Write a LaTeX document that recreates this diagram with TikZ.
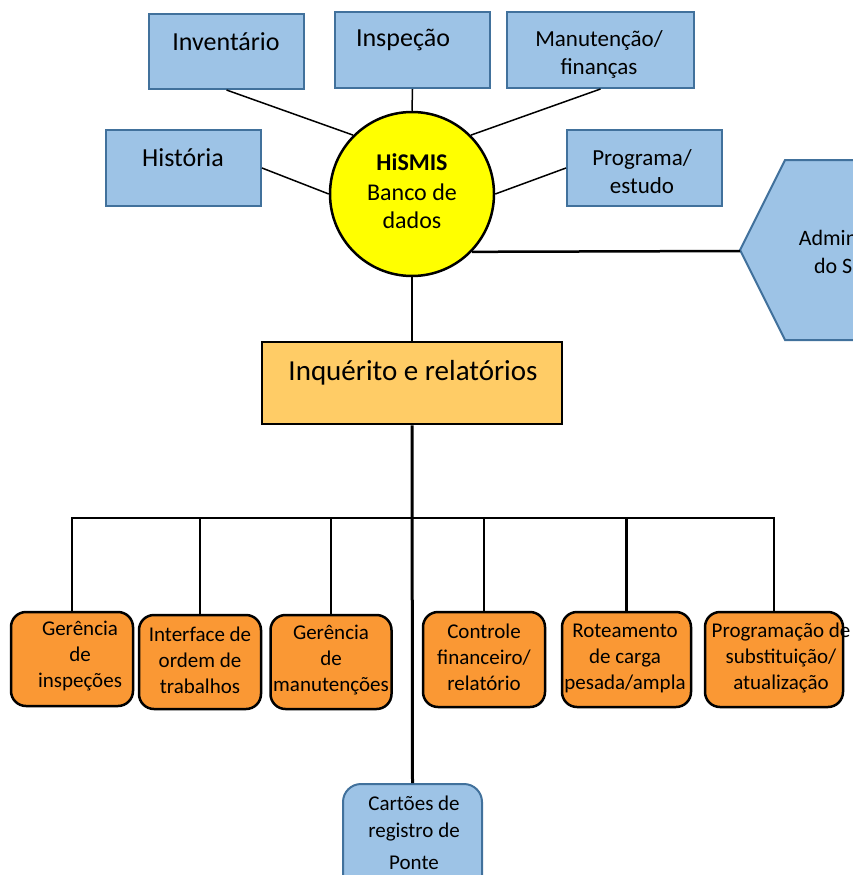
\documentclass[tikz,border=0pt]{standalone}
\usepackage{fontspec}
\setmainfont{Carlito}
\definecolor{bluefill}{RGB}{157,195,230}
\definecolor{bluedge}{RGB}{65,113,156}
\definecolor{orng}{RGB}{250,152,52}
\definecolor{inqfill}{RGB}{255,204,102}
\definecolor{hsyellow}{RGB}{255,255,0}
\tikzset{
  bbox/.style={rectangle, draw=bluedge, fill=bluefill, line width=2pt, inner sep=0pt},
  obox/.style={rectangle, rounded corners=15pt, draw=black, fill=orng, line width=2.5pt, inner sep=0pt},
  cbox/.style={rectangle, rounded corners=18pt, draw=bluedge, fill=bluefill, line width=2pt, inner sep=0pt},
  tbig/.style={font=\fontsize{26}{28}\selectfont, align=center, inner sep=0pt},
  tmid/.style={font=\fontsize{23}{28}\selectfont, align=center, inner sep=0pt},
  tsml/.style={font=\fontsize{21}{26}\selectfont, align=center, inner sep=0pt},
  thin/.style={draw=black, line width=1.5pt},
  drop/.style={draw=black, line width=2.5pt},
  trunk/.style={draw=black, line width=3pt},
}
\begin{document}
\begin{tikzpicture}[x=1pt,y=-1pt]
\useasboundingbox (0,0) rectangle (853,875);
\begin{scope}
\clip (0,0) rectangle (853,875);
% top boxes
\node[bbox, minimum width=155pt, minimum height=75pt] (inv) at (226.5,51.5) {};
\node[bbox, minimum width=155pt, minimum height=76pt] (insp) at (412.5,50) {};
\node[bbox, minimum width=187pt, minimum height=76pt] (man) at (600.5,50) {};
\node[bbox, minimum width=155pt, minimum height=76pt] (hist) at (183.5,168) {};
\node[bbox, minimum width=155pt, minimum height=76pt] (prog) at (644.5,168) {};
% hexagon
\path[draw=bluedge, fill=bluefill, line width=2pt]
  (740,250) -- (785,160) -- (941,160) -- (986,250) -- (941,340) -- (785,340) -- cycle;
\coordinate (hexw) at (740,251);
% circle
\node[circle, draw=black, fill=hsyellow, line width=2.5pt, minimum size=164pt, inner sep=0pt] (hs) at (412,194) {};
% connectors top
\draw[thin] (inv.south) -- (hs.135);
\draw[thin] (insp.south) -- (hs.north);
\draw[thin] (man.south) -- (hs.45);
\draw[thin] (hist.east) -- (hs.180);
\draw[thin] (prog.west) -- (hs.0);
\draw[drop] (hs.-44) -- (hexw);
% texts top
\node[tbig] (invt) at (226,42) {Inventário};
\node[tbig] (inspt) at (403,40) {Inspeção};
\node[tmid] (mant) at (599,54) {Manutenção/\\finanças};
\node[tbig] (histt) at (183,158) {História};
\node[tmid] (progt) at (642,172) {Programa/\\estudo};
\node[tsml, font=\fontsize{22}{28}\selectfont] (admt) at (863,252) {Administração\\do Sistema};
\node[align=center, inner sep=0pt, font=\fontsize{24}{30}\selectfont] (hst) at (412,191)
  {\textbf{HiSMIS}\\Banco de\\[-2pt]dados};
% inquerito
\node[rectangle, draw=black, fill=inqfill, line width=2.5pt, minimum width=300pt, minimum height=82pt, inner sep=0pt] (inq) at (412,383) {};
\node[inner sep=0pt, font=\fontsize{29}{32}\selectfont] (inqt) at (413,373) {Inquérito e relatórios};
\draw[thin] (hs.south) -- (inq.north);
% bottom boxes
\node[obox, minimum width=122pt, minimum height=94pt] (o1) at (72,659) {};
\node[obox, minimum width=122pt, minimum height=94pt] (o2) at (200,662) {};
\node[obox, minimum width=121pt, minimum height=94pt] (o3) at (331,662) {};
\node[obox, minimum width=122pt, minimum height=95pt] (o4) at (484,659.5) {};
\node[obox, minimum width=129pt, minimum height=95pt] (o5) at (626.5,659.5) {};
\node[obox, minimum width=138pt, minimum height=95pt] (o6) at (774,659.5) {};
\node[cbox, minimum width=139pt, minimum height=112pt] (cart) at (412.5,840) {};
% bus
\coordinate (bus) at (412,518);
\draw[trunk] (inq.south) -- (cart.north);
\draw[drop] (o1.north) |- (bus) -| (o6.north);
\draw[drop] (o2.north) -- (o2.north |- bus);
\draw[drop] (o3.north) -- (o3.north |- bus);
\draw[drop] (o4.north) -- (o4.north |- bus);
\draw[drop] (o5.north) -- (o5.north |- bus);
% bottom texts
\node[tsml] (o1t) at (80,656) {Gerência\\de\\inspeções};
\node[tsml] (o2t) at (200,660) {Interface de\\ordem de\\trabalhos};
\node[tsml] (o3t) at (331,660) {Gerência\\de\\manutenções};
\node[tsml] (o4t) at (484,657) {Controle\\financeiro/\\relatório};
\node[tsml] (o5t) at (625,658) {Roteamento\\de carga\\pesada/ampla};
\node[tsml] (o6t) at (781,658) {Programação de\\substituição/\\atualização};
\node[tsml, font=\fontsize{21}{27}\selectfont] (cartt) at (414,833) {Cartões de\\registro de\\[5pt]Ponte};
\end{scope}
\end{tikzpicture}
\end{document}
